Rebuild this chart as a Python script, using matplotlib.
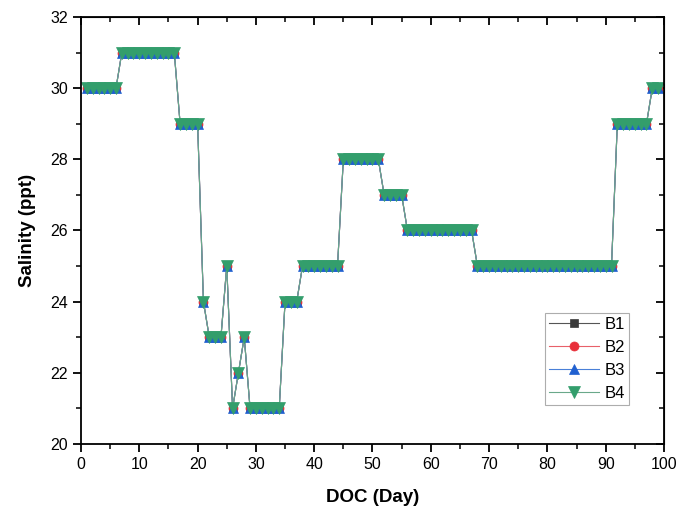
import matplotlib.pyplot as plt
from matplotlib.ticker import MultipleLocator

plt.rcParams['font.family'] = ['Liberation Sans', 'DejaVu Sans']

# daily salinity readings (ppt), days 1-99, same for every pond
days = list(range(1, 100))
salinity = [30, 30, 30, 30, 30, 30,
            31, 31, 31, 31, 31, 31, 31, 31, 31, 31,
            29, 29, 29, 29,
            24,
            23, 23, 23,
            25, 21, 22, 23,
            21, 21, 21, 21, 21, 21,
            24, 24, 24,
            25, 25, 25, 25, 25, 25, 25,
            28, 28, 28, 28, 28, 28, 28,
            27, 27, 27, 27,
            26, 26, 26, 26, 26, 26, 26, 26, 26, 26, 26, 26,
            25, 25, 25, 25, 25, 25, 25, 25, 25, 25, 25, 25,
            25, 25, 25, 25, 25, 25, 25, 25, 25, 25, 25, 25,
            29, 29, 29, 29, 29, 29,
            30, 30]
ponds = ['B1', 'B2', 'B3', 'B4']
b1 = salinity
b2 = salinity
b3 = salinity
b4 = salinity

# colour, marker, marker size
styles = [('#3a3a3a', 's', 6), ('#e8303a', 'o', 6.5),
          ('#2060d0', '^', 7.5), ('#339e6c', 'v', 9)]
line_cols = ['#555555', '#e8606a', '#4a80d8', '#6aa88a']

fig = plt.figure(figsize=(6.78, 5.15), dpi=100)
ax = fig.add_axes([0.1195, 0.138, 0.8598, 0.829])

for name, vals, (c, m, ms), lc in zip(ponds, [b1, b2, b3, b4], styles, line_cols):
    ax.plot(days, vals, color=lc, marker=m, markersize=ms, linewidth=0.8,
            markerfacecolor=c, markeredgewidth=0.5, markeredgecolor=c,
            label=name)

ax.set_xlim(0, 100)
ax.set_ylim(20, 32)
ax.xaxis.set_major_locator(MultipleLocator(10))
ax.xaxis.set_minor_locator(MultipleLocator(5))
ax.yaxis.set_major_locator(MultipleLocator(2))
ax.yaxis.set_minor_locator(MultipleLocator(1))

ax.tick_params(which='both', direction='out', labelsize=11.5, top=False, right=False)
ax.tick_params(which='major', length=6, width=1.3)
ax.tick_params(which='minor', length=3.5, width=1.1)
for s in ax.spines.values():
    s.set_linewidth(1.3)

# inward ticks on the top and right edges
tx = ax.secondary_xaxis('top')
tx.xaxis.set_major_locator(MultipleLocator(10))
tx.xaxis.set_minor_locator(MultipleLocator(5))
tx.tick_params(which='both', direction='in', labeltop=False)
tx.tick_params(which='major', length=6, width=1.3)
tx.tick_params(which='minor', length=3.5, width=1.1)
ty = ax.secondary_yaxis('right')
ty.yaxis.set_major_locator(MultipleLocator(2))
ty.yaxis.set_minor_locator(MultipleLocator(1))
ty.tick_params(which='both', direction='in', labelright=False)
ty.tick_params(which='major', length=6, width=1.3)
ty.tick_params(which='minor', length=3.5, width=1.1)

ax.set_xlabel('DOC (Day)', fontsize=13.5, fontweight='bold', labelpad=12)
ax.set_ylabel('Salinity (ppt)', fontsize=13.5, fontweight='bold', labelpad=10)

leg = ax.legend(loc='upper left', bbox_to_anchor=(0.796, 0.307), fontsize=12,
                frameon=True, fancybox=False, edgecolor='#999999',
                handlelength=3.0, labelspacing=0.48, borderpad=0.25,
                handletextpad=0.3, borderaxespad=0, markerscale=1.0)
leg.get_frame().set_linewidth(0.8)

fig.savefig('out.png', dpi=100)
